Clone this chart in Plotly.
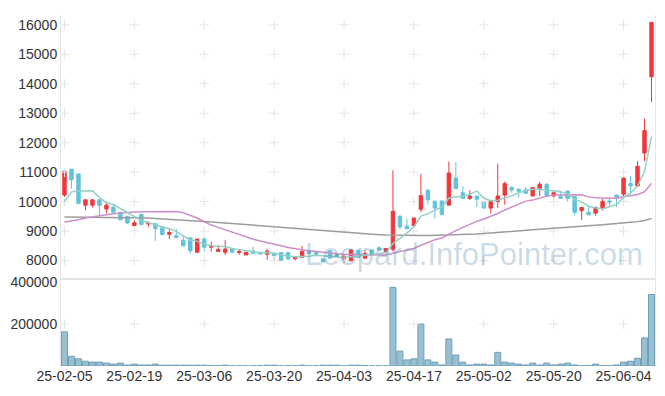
import pandas as pd
import plotly.graph_objects as go

# ---- data ----
holidays = ["2025-03-03", "2025-05-01", "2025-05-05", "2025-05-06", "2025-06-03", "2025-06-06"]
days = [d for d in pd.bdate_range("2025-02-05", "2025-06-11") if d.strftime("%Y-%m-%d") not in holidays]
dates = [d.strftime("%y-%m-%d") for d in days]

opens = [10220, 11100, 10940, 9880, 9880, 10060, 9750, 9810, 9640, 9500,
         9190, 9570, 9240, 9250, 9110, 8890, 8840, 8690, 8770, 8280,
         8730, 8450, 8310, 8280, 8410, 8270, 8190, 8320, 8280, 8210,
         8225, 8270, 8270, 8060, 8110, 8310, 8270, 8060, 8330, 8200,
         8060, 7990, 8350, 8080, 8360, 8430, 8300, 8380, 9500, 9170,
         9190, 9740, 10390, 10000, 10020, 9880, 10800, 10300, 10110, 10190,
         10000, 9780, 10000, 10220, 10480, 10420, 10400, 10190, 10450, 10590,
         10190, 10170, 10360, 10170, 9690, 9640, 9610, 9780, 10020, 10220,
         10250, 10610, 10530, 11650, 14240]
highs = [11050, 11100, 10950, 10060, 10070, 10080, 10000, 9880, 9650, 9500,
         9360, 9580, 9330, 9260, 9130, 9060, 9080, 8860, 8780, 8730,
         8800, 8640, 8520, 8690, 8420, 8390, 8290, 8470, 8290, 8390,
         8300, 8280, 8290, 8120, 8490, 8320, 8280, 8080, 8340, 8210,
         8170, 8370, 8360, 8350, 8370, 8480, 8420, 11060, 9550, 9420,
         9460, 10940, 10400, 10060, 10030, 11360, 11340, 10520, 10390, 10200,
         10010, 10000, 11290, 10680, 10520, 10440, 10500, 10490, 10670, 10620,
         10340, 10360, 10370, 10180, 9810, 9830, 9830, 10090, 10170, 10230,
         10810, 10870, 11370, 12820, 16100]
lows = [9880, 10440, 9940, 9700, 9800, 9530, 9600, 9630, 9380, 9230,
        9180, 9200, 9140, 8660, 8870, 8730, 8770, 8490, 8240, 8270,
        8300, 8300, 8300, 8190, 8270, 8190, 8180, 8230, 8200, 8020,
        8030, 7990, 8000, 8000, 8100, 8220, 8160, 7940, 8060, 8110,
        7920, 7980, 8090, 8070, 8200, 8320, 8290, 8300, 9050, 9060,
        9180, 9640, 9900, 9420, 9550, 9880, 10430, 10100, 10060, 9810,
        9770, 9600, 9780, 9890, 10300, 10140, 10260, 10180, 10190, 10170,
        10080, 10100, 10000, 9530, 9380, 9540, 9520, 9700, 9810, 9810,
        10000, 10250, 10520, 11370, 13380]
closes = [11030, 10740, 9940, 10060, 10060, 9870, 9880, 9640, 9380, 9270,
          9280, 9220, 9260, 9080, 8880, 8950, 8780, 8500, 8330, 8730,
          8450, 8500, 8370, 8390, 8280, 8310, 8280, 8240, 8220, 8320,
          8170, 8000, 8060, 8110, 8310, 8240, 8170, 7950, 8080, 8120,
          8150, 8360, 8100, 8240, 8210, 8360, 8410, 9670, 9140, 9080,
          9440, 10200, 10060, 9780, 9560, 10970, 10440, 10110, 10190, 10080,
          9780, 10000, 10190, 10610, 10390, 10350, 10280, 10480, 10590, 10200,
          10300, 10110, 10110, 9640, 9800, 9550, 9800, 10000, 9980, 10150,
          10800, 10530, 11200, 12410, 16080]
volumes = [163000, 46000, 34000, 23000, 18500, 18500, 14000, 9000, 14000, 5000,
           9000, 5000, 5000, 9000, 4000, 4000, 4000, 4000, 4000, 4000,
           4000, 1500, 1500, 4000, 1000, 1000, 1000, 1000, 1500, 4000,
           4000, 1000, 1000, 1500, 4000, 1000, 1500, 4000, 4000, 4000,
           1000, 4000, 4000, 1500, 1000, 1000, 1500, 375000, 71000, 29000,
           34000, 200000, 29000, 18500, 5000, 129000, 52000, 18500, 5000, 9000,
           9000, 5000, 65000, 18500, 14000, 9000, 5000, 14000, 5000, 14000,
           5000, 9000, 14000, 5000, 1500, 1500, 9000, 1500, 1500, 5000,
           18500, 23000, 37000, 134000, 341000]
# moving-average values before a full window is available
ma5_head = [10000, 10330, 10360, 10360]
ma20_head = [9305, 9340, 9385, 9445, 9490, 9525, 9555, 9585, 9610, 9630,
             9645, 9655, 9660, 9662, 9665, 9665, 9660, 9620, 9540]
ma120 = [9480, 9478, 9476, 9474, 9472, 9470, 9468, 9465, 9462, 9458,
         9454, 9448, 9440, 9430, 9418, 9405, 9390, 9375, 9360, 9345,
         9328, 9310, 9292, 9274, 9256, 9238, 9220, 9200, 9180, 9160,
         9140, 9120, 9100, 9080, 9060, 9040, 9020, 9000, 8980, 8965,
         8950, 8935, 8920, 8905, 8890, 8875, 8862, 8855, 8850, 8848,
         8848, 8850, 8852, 8856, 8860, 8866, 8872, 8880, 8890, 8900,
         8915, 8930, 8948, 8965, 8985, 9005, 9025, 9045, 9065, 9085,
         9105, 9125, 9140, 9155, 9170, 9185, 9200, 9215, 9230, 9250,
         9270, 9295, 9320, 9360, 9430]
price_ticks = [8000, 9000, 10000, 11000, 12000, 13000, 14000, 15000, 16000]
vol_ticks = [200000, 400000]
label_step = 10

# ---- derived ----
n = len(closes)
xs = list(range(n))
cs = pd.Series(closes)
ma5 = ma5_head + list(cs.rolling(5).mean().iloc[len(ma5_head):])
ma20 = ma20_head + list(cs.rolling(20).mean().iloc[len(ma20_head):])
tick_idx = list(range(0, n, label_step))
tick_txt = [dates[i] for i in tick_idx]

RED = "#f0383c"
BLUE = "#62c3db"

fig = go.Figure()

# grid crosses
grid_col = "#e4e4e4"
fig.add_trace(go.Scatter(
    x=[i for i in tick_idx for _ in price_ticks], y=[p for _ in tick_idx for p in price_ticks],
    mode="markers", marker=dict(symbol="cross-thin", size=7, line=dict(width=1, color=grid_col)),
    hoverinfo="skip", showlegend=False, xaxis="x", yaxis="y"))
fig.add_trace(go.Scatter(
    x=tick_idx, y=[vol_ticks[0]] * len(tick_idx),
    mode="markers", marker=dict(symbol="cross-thin", size=7, line=dict(width=1, color=grid_col)),
    hoverinfo="skip", showlegend=False, xaxis="x2", yaxis="y2"))

fig.add_trace(go.Scatter(x=xs, y=ma120, mode="lines", line=dict(color="#9c9c9c", width=1.5),
                         showlegend=False, hoverinfo="skip"))
fig.add_trace(go.Scatter(x=xs, y=ma20, mode="lines", line=dict(color="#cc90c9", width=1.5),
                         showlegend=False, hoverinfo="skip"))
fig.add_trace(go.Candlestick(
    x=xs, open=opens, high=highs, low=lows, close=closes,
    increasing=dict(line=dict(color=RED, width=1), fillcolor=RED),
    decreasing=dict(line=dict(color=BLUE, width=1), fillcolor=BLUE),
    whiskerwidth=0, showlegend=False))
fig.add_trace(go.Scatter(x=xs, y=ma5, mode="lines", line=dict(color="#93d0c5", width=1.5),
                         showlegend=False, hoverinfo="skip"))

fig.add_trace(go.Bar(x=xs, y=volumes, marker=dict(color="#98c0d2", line=dict(color="#6f9fb9", width=1)),
                     width=0.86, showlegend=False, xaxis="x2", yaxis="y2"))

font = dict(family="Liberation Sans, Arial, sans-serif", size=14, color="#333333")
fig.update_layout(
    width=665, height=396,
    margin=dict(l=61, r=9, t=10, b=30),
    paper_bgcolor="white", plot_bgcolor="white",
    font=font,
    xaxis=dict(domain=[0, 1], range=[-0.5, n - 0.5], showticklabels=False, showgrid=False,
               zeroline=False, showline=True, linecolor="#e4e4e4", linewidth=2,
               rangeslider=dict(visible=False), anchor="y"),
    yaxis=dict(domain=[0.25, 1], range=[7398, 16334], tickvals=price_ticks, tickformat="d",
               showgrid=False, zeroline=False, showline=True, mirror=True, linecolor="#e6e6e6",
               linewidth=1, ticks="", tickfont=font, anchor="x"),
    xaxis2=dict(domain=[0, 1], range=[-0.5, n - 0.5], tickvals=tick_idx, ticktext=tick_txt,
                showgrid=False, zeroline=False, showline=False, ticks="", tickfont=font,
                anchor="y2", matches="x"),
    yaxis2=dict(domain=[0, 0.2444], range=[0, 409000], tickvals=vol_ticks, tickformat="d",
                showgrid=False, zeroline=False, showline=True, mirror=True, linecolor="#e6e6e6",
                linewidth=1, ticks="", tickfont=font, anchor="x2"),
    annotations=[dict(text="Leopard.InfoPointer.com", xref="paper", yref="paper",
                      x=0.696, y=0.317, xanchor="center", yanchor="middle", showarrow=False,
                      font=dict(family="Liberation Sans, Arial, sans-serif", size=31,
                                color="rgba(70,130,170,0.28)"))],
)

fig.write_html("out.html", config={"displayModeBar": False},
               post_script="document.body.style.margin='0px';")
